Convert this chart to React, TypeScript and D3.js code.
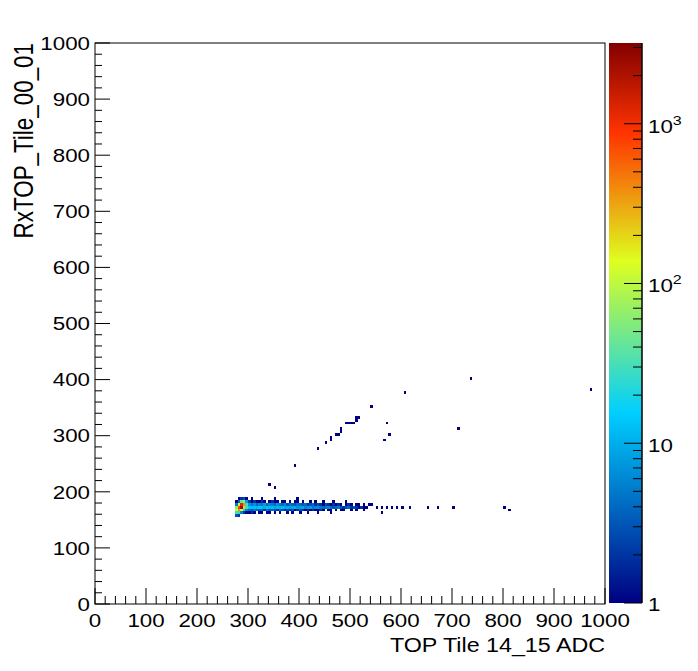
import * as d3 from 'd3'

// 2D histogram, 5-unit bins. Band rows hold counts starting at BAND_X0.
const BIN = 5
const BAND_X0 = 275
const bandRowY = [185, 180, 175, 170, 165, 160, 155]
const row185 = [0, 1, 2, 3, 1, 0, 1, 0, 0, 0, 1, 0, 0, 0, 0, 1, 0, 0, 0, 0, 0, 0, 0, 0, 1]
const row180 = [
  1, 4, 40, 60, 8, 2, 1, 2, 1, 1, 2, 1, 0, 1, 2, 1, 1, 0, 1, 1, 0, 1, 0, 1, 1, 0, 1, 0, 0, 1,
  0, 1, 0, 0, 1, 0, 0, 0, 1, 0, 0, 0, 0, 1,
]
const row175 = [
  5, 150, 1200, 400, 30, 7, 5, 7, 4, 6, 5, 8, 4, 6, 5, 4, 7, 5, 4, 6, 3, 5, 4, 3, 5, 4, 3, 4, 2,
  3, 4, 2, 3, 2, 1, 3, 2, 1, 2, 1, 2, 1, 0, 1, 2, 1, 0, 1, 1, 0, 1, 0,
]
const row170 = [
  60, 800, 2500, 200, 30, 14, 12, 13, 11, 14, 12, 10, 13, 11, 12, 9, 11, 10, 12, 9, 10, 8, 9, 10,
  7, 8, 9, 6, 7, 8, 5, 6, 7, 5, 4, 5, 6, 4, 3, 4, 5, 3, 2, 3, 4, 2, 3, 2, 1, 2, 1, 1,
]
const row165 = [
  120, 400, 150, 20, 6, 4, 3, 5, 4, 3, 4, 2, 5, 3, 4, 3, 2, 4, 3, 2, 3, 2, 3, 1, 2, 3, 2, 1, 2,
  1, 2, 1, 1, 2, 1, 0, 1, 1, 0, 1, 0, 1, 1, 0, 0, 1, 0, 1, 0, 0, 1, 0,
]
const row160 = [
  30, 25, 6, 2, 1, 1, 2, 1, 0, 1, 1, 0, 1, 1, 0, 1, 0, 1, 0, 0, 1, 0, 1, 0, 0, 1, 0, 0, 1, 0, 0,
  0, 1, 0, 0, 0, 0, 1,
]
const row155 = [3, 2]
const bandRows = [row185, row180, row175, row170, row165, row160, row155]

// isolated bins: [x, y, count]
const tailCells: [number, number, number][] = [
  [535, 175, 1], [540, 175, 1], [550, 170, 1], [560, 170, 1], [560, 160, 1], [570, 170, 1],
  [580, 170, 1], [590, 170, 1], [600, 170, 1], [615, 170, 1], [650, 170, 1], [670, 170, 1],
  [700, 170, 1], [800, 170, 1], [810, 165, 1],
]
const trackCells: [number, number, number][] = [
  [340, 210, 1], [350, 205, 1], [390, 245, 1], [435, 275, 1], [450, 285, 1], [460, 290, 1],
  [460, 295, 1], [470, 300, 1], [475, 300, 1], [480, 305, 1], [480, 310, 1], [490, 320, 1],
  [495, 320, 1], [500, 320, 1], [505, 320, 1], [510, 330, 1], [515, 330, 1], [510, 325, 1],
  [540, 350, 1], [570, 320, 1], [575, 300, 1], [565, 290, 1], [605, 375, 1], [710, 310, 1],
  [735, 400, 1], [970, 380, 1],
]

const xTickLabels = ['0', '100', '200', '300', '400', '500', '600', '700', '800', '900', '1000']
const yTickLabels = xTickLabels
const zMin = 1
const zMax = 3200

const W = 698
const H = 671
const FRAME = { left: 95, right: 605, top: 43, bottom: 604 }
const PAL = { left: 609, right: 642 }
const FONT = "'Liberation Sans', Arial, Helvetica, sans-serif"
const FS = 18.6
const SX = 1.2

const STOPS = [0, 0.34, 0.61, 0.84, 1]
const STOP_COLORS = ['rgb(0,0,130)', 'rgb(0,207,255)', 'rgb(222,255,31)', 'rgb(255,51,0)', 'rgb(130,0,0)']

const x = d3.scaleLinear().domain([0, 1000]).range([FRAME.left, FRAME.right])
const y = d3.scaleLinear().domain([0, 1000]).range([FRAME.bottom, FRAME.top])
const z = d3.scaleLog().domain([zMin, zMax]).range([FRAME.bottom - 1, FRAME.top])
const t = d3.scaleLog().domain([zMin, zMax]).range([0, 1]).clamp(true)
const palette = d3.scaleLinear<string>().domain(STOPS).range(STOP_COLORS).interpolate(d3.interpolateRgb)

function Txt(props: { x: number; y: number; anchor?: string; rotate?: boolean; size?: number; children: any }) {
  const tr = `translate(${props.x},${props.y}) scale(${SX},1)${props.rotate ? ' rotate(-90)' : ''}`
  return (
    <text transform={tr} textAnchor={props.anchor ?? 'middle'} fontSize={props.size ?? FS} fontFamily={FONT} fill="#000">
      {props.children}
    </text>
  )
}

export default function App() {
  const cells: [number, number, number][] = []
  bandRows.forEach((row, r) => {
    row.forEach((c, i) => {
      if (c > 0) cells.push([BAND_X0 + i * BIN, bandRowY[r], c])
    })
  })
  cells.push(...tailCells, ...trackCells)
  cells.sort((a, b) => a[2] - b[2])

  const xMajor = x.ticks(10)
  const xMinor = x.ticks(50)
  const yMajor = y.ticks(10)
  const yMinor = y.ticks(50)
  const zTicks = z.ticks()
  const isMajorZ = (v: number) => Math.abs(Math.log10(v) - Math.round(Math.log10(v))) < 1e-9

  return (
    <svg width={W} height={H} style={{ position: 'absolute', left: 0, top: 0, background: '#fff' }}>
      <defs>
        <linearGradient id="pal" x1="0" y1="1" x2="0" y2="0">
          {STOPS.map((s, i) => (
            <stop key={i} offset={s} stopColor={STOP_COLORS[i]} />
          ))}
        </linearGradient>
      </defs>
      <rect width={W} height={H} fill="#fff" />

      <g shapeRendering="crispEdges">
        {cells.map(([cx, cy, c], i) => (
          <rect
            key={i}
            x={x(cx)}
            y={y(cy + BIN)}
            width={x(cx + BIN) - x(cx)}
            height={y(cy) - y(cy + BIN)}
            fill={palette(t(c))}
          />
        ))}
      </g>

      <rect
        x={FRAME.left}
        y={FRAME.top}
        width={FRAME.right - FRAME.left}
        height={FRAME.bottom - FRAME.top}
        fill="none"
        stroke="#000"
        strokeWidth={1}
      />

      <g stroke="#000" strokeWidth={1}>
        {xMinor.map((v) => (
          <line key={'xm' + v} x1={x(v)} x2={x(v)} y1={FRAME.bottom} y2={FRAME.bottom - (v % 100 === 0 ? 16 : 8)} />
        ))}
        {yMinor.map((v) => (
          <line key={'ym' + v} x1={FRAME.left} x2={FRAME.left + (v % 100 === 0 ? 15 : 7)} y1={y(v)} y2={y(v)} />
        ))}
      </g>

      {xMajor.map((v, i) => (
        <Txt key={'xl' + v} x={x(v)} y={FRAME.bottom + 23}>
          {xTickLabels[i]}
        </Txt>
      ))}
      {yMajor.map((v, i) => (
        <Txt key={'yl' + v} x={FRAME.left - 5} y={y(v) + 6.7} anchor="end">
          {yTickLabels[i]}
        </Txt>
      ))}

      <Txt x={FRAME.right} y={652} anchor="end" size={19.4}>
        TOP Tile 14_15 ADC
      </Txt>
      <Txt x={33} y={FRAME.top} anchor="end" rotate size={22.4}>
        RxTOP_Tile_00_01
      </Txt>

      <rect x={PAL.left} y={FRAME.top} width={PAL.right - PAL.left} height={FRAME.bottom - 1 - FRAME.top} fill="url(#pal)" />
      <line x1={PAL.right} x2={PAL.right} y1={FRAME.top} y2={FRAME.bottom - 1} stroke="#000" strokeWidth={1.5} />
      <g stroke="#000" strokeWidth={1}>
        {zTicks.map((v) => (
          <line key={'zt' + v} x1={PAL.right - (isMajorZ(v) ? 18 : 9)} x2={PAL.right} y1={z(v)} y2={z(v)} />
        ))}
      </g>
      <Txt x={648} y={z(1) + 8} anchor="start">1</Txt>
      <Txt x={648} y={z(10) + 9} anchor="start">10</Txt>
      {[2, 3].map((p) => (
        <text key={'zp' + p} transform={`translate(648,${z(Math.pow(10, p)) + 9}) scale(${SX},1)`} fontSize={FS} fontFamily={FONT}>
          10
          <tspan dy={-8} fontSize={FS * 0.72}>
            {p}
          </tspan>
        </text>
      ))}
    </svg>
  )
}
